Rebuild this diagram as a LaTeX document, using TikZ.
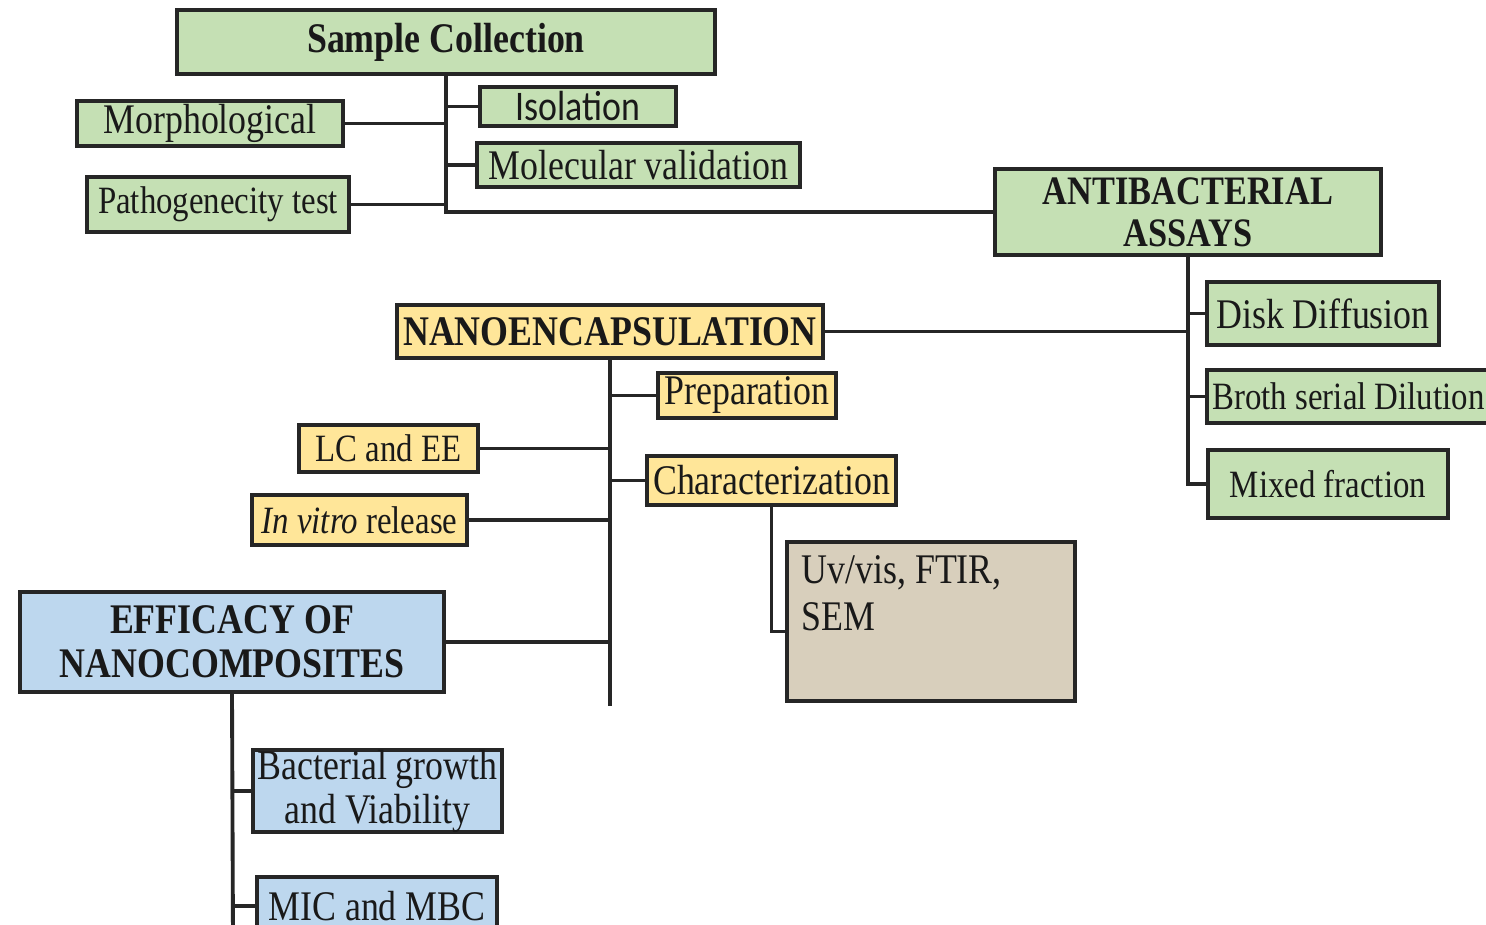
\documentclass[tikz,border=0pt]{standalone}
\usepackage{fontspec}
\setmainfont{Liberation Serif}[FakeStretch=0.85]
\newfontfamily\calibrifont{Carlito}[FakeStretch=0.85]

\begin{document}
\begin{tikzpicture}[x=0.02cm, y=-0.02cm,
    box/.style={draw=black!85, line width=2pt, inner sep=0pt, align=center,
        text=black!90, font=\fontsize{24}{25}\selectfont},
    boxsize/.style 2 args={minimum width=#1cm, minimum height=#2cm},
    smalltext/.style={font=\fontsize{22}{23}\selectfont},
    greenbox/.style={box, fill=boxgreen},
    yellowbox/.style={box, fill=boxyellow},
    bluebox/.style={box, fill=boxblue},
    tanbox/.style={box, fill=boxtan},
    link/.style={draw=black!85, line width=2.2pt}]
    \definecolor{boxgreen}{RGB}{197,224,180}
    \definecolor{boxyellow}{RGB}{255,230,153}
    \definecolor{boxblue}{RGB}{189,215,238}
    \definecolor{boxtan}{RGB}{216,207,188}

    \useasboundingbox (0,0) rectangle (1486,924);
    \clip (0,0) rectangle (1486,924);
    \fill[white] (0,0) rectangle (1486,924);

    % Sample collection
    \node[greenbox, boxsize={10.76}{1.28}] (samp) at (446,42) {\bfseries Sample Collection};
    \node[greenbox, boxsize={5.32}{0.9}] (morph) at (210,123.5) {Morphological};
    \node[greenbox, smalltext, boxsize={5.24}{1.1}] (patho) at (218,204.5) {Pathogenecity test};
    \node[greenbox, boxsize={3.92}{0.78}] (isol) at (578,106.5) {\calibrifont Isolation};
    \node[greenbox, boxsize={6.46}{0.88}] (molec) at (638.5,165) {Molecular validation};

    % Antibacterial assays
    \node[greenbox, font=\fontsize{23}{24}\selectfont, boxsize={7.72}{1.72}] (anti) at (1188,212)
        {\bfseries ANTIBACTERIAL\\ \bfseries ASSAYS};
    \node[greenbox, boxsize={4.64}{1.26}] (disk) at (1323,313.5) {Disk Diffusion};
    \node[greenbox, smalltext, boxsize={5.66}{1.06}] (broth) at (1348.5,396.5) {Broth serial Dilution};
    \node[greenbox, smalltext, boxsize={4.8}{1.36}] (mixed) at (1328,484) {Mixed fraction};

    % Nanoencapsulation
    \node[yellowbox, boxsize={8.52}{1.06}] (nano) at (610,331.5) {\bfseries NANOENCAPSULATION};
    \node[yellowbox, boxsize={3.56}{0.9}] (prep) at (747,395.5) {Preparation};
    \node[yellowbox, smalltext, boxsize={3.58}{0.94}] (lcee) at (388.5,448.5) {LC and EE};
    \node[yellowbox, boxsize={4.98}{0.98}] (charz) at (771.5,480.5) {Characterization};
    \node[yellowbox, smalltext, boxsize={4.3}{1.0}] (invitro) at (359.5,520) {\textit{In vitro} release};
    \node[tanbox, boxsize={5.76}{3.18},
        label={[anchor=north west, align=left, inner sep=0pt, xshift=0.32cm, yshift=-0.3cm,
            font=\fontsize{24}{26.5}\selectfont, text=black!90]north west:Uv/vis, FTIR,\\SEM}]
        (uvvis) at (931,621.5) {};

    % Efficacy of nanocomposites
    \node[bluebox, boxsize={8.48}{2.0}] (effic) at (232,642) {\bfseries EFFICACY OF\\ \bfseries NANOCOMPOSITES};
    \node[bluebox, boxsize={4.98}{1.64}] (bact) at (377.5,791) {Bacterial growth\\and Viability};
    \node[bluebox, boxsize={4.8}{1.16}] (mic) at (377,906) {MIC and MBC};

    % Connectors
    \draw[link] (samp.south) |- (anti.west);
    \draw[link] (isol.west) -- (isol.west -| samp.south);
    \draw[link] (morph.east) -- (morph.east -| samp.south);
    \draw[link] (molec.west) -- (molec.west -| samp.south);
    \draw[link] (patho.east) -- (patho.east -| samp.south);

    \draw[link] (anti.south) |- (mixed.west);
    \draw[link] (disk.west) -- (disk.west -| anti.south);
    \draw[link] (broth.west) -- (broth.west -| anti.south);
    \draw[link] (nano.east) -- (nano.east -| anti.south);

    \coordinate (nanoend) at (610,706);
    \draw[link] (nano.south) -- (nanoend);
    \draw[link] (prep.west) -- (prep.west -| nano.south);
    \draw[link] (lcee.east) -- (lcee.east -| nano.south);
    \draw[link] (charz.west) -- (charz.west -| nano.south);
    \draw[link] (invitro.east) -- (invitro.east -| nano.south);
    \draw[link] (effic.east) -- (effic.east -| nano.south);
    \draw[link] (charz.south) |- ([yshift=-0.2cm]uvvis.west);

    \coordinate (efficend) at (233,940);
    \draw[link] (effic.south) -- (efficend);
    \draw[link] (bact.west) -- (bact.west -| effic.south);
    \draw[link] (mic.west) -- (mic.west -| effic.south);
\end{tikzpicture}
\end{document}
